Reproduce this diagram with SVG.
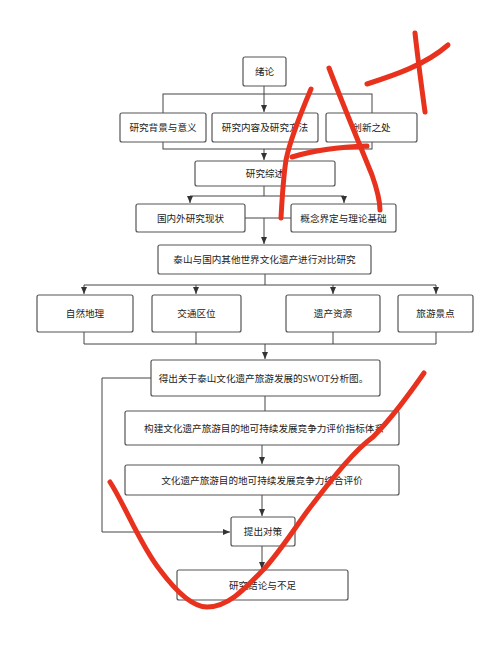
<svg xmlns="http://www.w3.org/2000/svg" width="500" height="653" viewBox="0 0 500 653">
<defs>
<marker id="ah" markerWidth="8" markerHeight="8" refX="7" refY="4" orient="auto" markerUnits="userSpaceOnUse">
<path d="M0,1 L7,4 L0,7 Z" fill="#333"/>
</marker>
<style>
.box{fill:#fff;stroke:#555;stroke-width:1.2}
.t{font-family:"Liberation Serif","Noto Sans CJK SC",serif;font-size:9.6px;fill:#222;text-anchor:middle;dominant-baseline:central}
.c{fill:none;stroke:#444;stroke-width:1}
.red{fill:none;stroke:#e8321e;stroke-width:5;stroke-linecap:round;stroke-linejoin:round}
</style>
</defs>
<rect width="500" height="653" fill="#fff"/>
<g id="connectors">
<rect class="c" x="163" y="94" width="209" height="55"/>
<path class="c" d="M264,86 V112" marker-end="url(#ah)"/>
<path class="c" d="M264,149 V160" marker-end="url(#ah)"/>
<path class="c" d="M264,186 V196 M190,196 H344"/>
<path class="c" d="M190,196 V203" marker-end="url(#ah)"/>
<path class="c" d="M344,196 V203" marker-end="url(#ah)"/>
<path class="c" d="M245,218 H291"/>
<path class="c" d="M264,218 V244" marker-end="url(#ah)"/>
<path class="c" d="M265,274 V285 M84,285 H436"/>
<path class="c" d="M84,285 V294" marker-end="url(#ah)"/>
<path class="c" d="M196,285 V294" marker-end="url(#ah)"/>
<path class="c" d="M333,285 V294" marker-end="url(#ah)"/>
<path class="c" d="M436,285 V294" marker-end="url(#ah)"/>
<path class="c" d="M84,332 V344 H436 V332 M196,332 V344 M333,332 V344"/>
<path class="c" d="M265,344 V359" marker-end="url(#ah)"/>
<path class="c" d="M265,396 V411"/>
<path class="c" d="M262,445 V464" marker-end="url(#ah)"/>
<path class="c" d="M262,495 V516" marker-end="url(#ah)"/>
<path class="c" d="M151,378 H102 V532 H230" marker-end="url(#ah)"/>
<path class="c" d="M262,546 V569" marker-end="url(#ah)"/>
</g>
<g id="n1"><rect class="box" x="243" y="57" width="43" height="29" rx="2"/><text class="t" x="264.5" y="71.5">绪论</text></g>
<g id="n2"><rect class="box" x="120" y="113" width="86" height="29" rx="2"/><text class="t" x="163" y="127.5">研究背景与意义</text></g>
<g id="n3"><rect class="box" x="212" y="113" width="106" height="29" rx="2"/><text class="t" x="265" y="127.5">研究内容及研究方法</text></g>
<g id="n4"><rect class="box" x="326" y="113" width="91" height="29" rx="2"/><text class="t" x="371.5" y="127.5">创新之处</text></g>
<g id="n5"><rect class="box" x="195" y="161" width="140" height="25" rx="2"/><text class="t" x="265" y="173.5">研究综述</text></g>
<g id="n6"><rect class="box" x="136" y="204" width="109" height="28" rx="2"/><text class="t" x="190.5" y="218">国内外研究现状</text></g>
<g id="n7"><rect class="box" x="291" y="204" width="105" height="28" rx="2"/><text class="t" x="343.5" y="218">概念界定与理论基础</text></g>
<g id="n8"><rect class="box" x="158" y="245" width="213" height="29" rx="2"/><text class="t" x="264.5" y="259.5">泰山与国内其他世界文化遗产进行对比研究</text></g>
<g id="n9"><rect class="box" x="37" y="295" width="96" height="37" rx="2"/><text class="t" x="85" y="313.5">自然地理</text></g>
<g id="n10"><rect class="box" x="152" y="295" width="89" height="37" rx="2"/><text class="t" x="196.5" y="313.5">交通区位</text></g>
<g id="n11"><rect class="box" x="286" y="295" width="94" height="37" rx="2"/><text class="t" x="333" y="313.5">遗产资源</text></g>
<g id="n12"><rect class="box" x="398" y="295" width="75" height="37" rx="2"/><text class="t" x="435.5" y="313.5">旅游景点</text></g>
<g id="n13"><rect class="box" x="151" y="360" width="229" height="36" rx="2"/><text class="t" x="263.5" y="378">得出关于泰山文化遗产旅游发展的SWOT分析图。</text></g>
<g id="n14"><rect class="box" x="125" y="411" width="274" height="34" rx="2"/><text class="t" x="264" y="428">构建文化遗产旅游目的地可持续发展竞争力评价指标体系</text></g>
<g id="n15"><rect class="box" x="125" y="465" width="274" height="30" rx="2"/><text class="t" x="262" y="480">文化遗产旅游目的地可持续发展竞争力综合评价</text></g>
<g id="n16"><rect class="box" x="231" y="517" width="64" height="29" rx="2"/><text class="t" x="263" y="531.5">提出对策</text></g>
<g id="n17"><rect class="box" x="177" y="570" width="171" height="30" rx="2"/><text class="t" x="262.5" y="585">研究结论与不足</text></g>
<g id="marks">
<path class="red" d="M311,89 C300,115 290,140 286,160 C283,180 282,200 281,218"/>
<path class="red" d="M329,68 C345,110 362,150 372,175 C378,192 380,205 380,210"/>
<path class="red" d="M292,157 C315,150 340,147 367,146"/>
<path class="red" d="M415,33 C418,60 422,90 425,112"/>
<path class="red" d="M367,84 C395,75 425,65 448,45"/>
<path class="red" d="M110,482 C125,505 140,545 160,570 C175,590 192,607 207,607 C230,607 248,585 265,568 C285,545 300,520 312,505 C335,475 355,450 373,437 C395,415 412,390 424,373"/>
</g>
</svg>
